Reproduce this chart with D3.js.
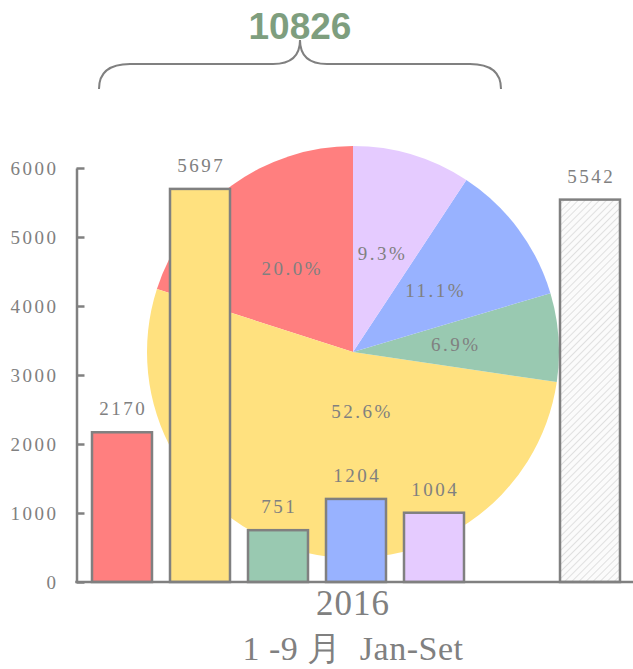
<!DOCTYPE html>
<html>
<head>
<meta charset="utf-8">
<script src="https://cdn.jsdelivr.net/npm/d3@7"></script>
<style>
  html, body { margin: 0; padding: 0; background: #fff; }
  svg { display: block; }
</style>
</head>
<body>
<svg id="chart" width="633" height="669"></svg>
<script>
// ---- data ----
const categories = ["c1", "c2", "c3", "c4", "c5"];
const values = [2170, 5697, 751, 1204, 1004];
const colors = ["#ff7f7f", "#ffe17f", "#99c9b1", "#98b2ff", "#e5cbff"];
const compareCategory = "prev";
const compareValue = 5542;
const yTicks = [0, 1000, 2000, 3000, 4000, 5000, 6000];
const yearLabel = "2016";
const periodLabel = "1 -9 月  Jan-Set";

// ---- layout ----
const W = 633, H = 669;
const axisX = 76.5, baseY = 582, topY = 168;
const pieCx = 353, pieCy = 352, pieR = 206;
const grey = "#808080";
const serif = "'Liberation Serif', 'Times New Roman', serif";
const smallFont = 19, smallSpacing = 2.5;

const svg = d3.select("#chart");

const defs = svg.append("defs");
const pat = defs.append("pattern")
  .attr("id", "hatch").attr("patternUnits", "userSpaceOnUse")
  .attr("width", 5).attr("height", 5)
  .attr("patternTransform", "rotate(45)");
pat.append("rect").attr("width", 5).attr("height", 5).attr("fill", "#fbfbfb");
pat.append("line").attr("x1", 0).attr("y1", 0).attr("x2", 0).attr("y2", 5)
  .attr("stroke", "#e0e0e0").attr("stroke-width", 2);

const total = d3.sum(values);

// scales
const xDomain = [...categories, "gap", compareCategory];
const x = d3.scaleBand().domain(xDomain).range([83, 629])
  .paddingInner(0.2308).paddingOuter(0.1154);
const y = d3.scaleLinear().domain([0, 6000]).range([baseY, topY]);

// ---- pie (behind bars) ----
const pie = d3.pie().sort(null).startAngle(0).endAngle(-2 * Math.PI);
const arcs = pie(values);
const arc = d3.arc().innerRadius(0).outerRadius(pieR);
const pg = svg.append("g").attr("transform", `translate(${pieCx},${pieCy})`);
pg.selectAll("path").data(arcs).join("path")
  .attr("d", arc).attr("fill", (d, i) => colors[i]);
// labels: centroid, except the dominant (>half) slice which is labelled near the centre, below it
function labelPos(d) {
  if (Math.abs(d.endAngle - d.startAngle) > Math.PI) {
    const a = Math.PI - 0.15, r = pieR * 0.29;
    return [Math.sin(a) * r, -Math.cos(a) * r];
  }
  return arc.centroid(d);
}
pg.selectAll("text").data(arcs).join("text")
  .attr("transform", d => `translate(${labelPos(d)})`)
  .attr("text-anchor", "middle").attr("dy", "0.35em")
  .attr("font-family", serif).attr("font-size", smallFont)
  .attr("letter-spacing", smallSpacing)
  .attr("fill", grey)
  .text(d => (d.value / total * 100).toFixed(1) + "%");

// ---- bars ----
const bars = svg.append("g");
bars.selectAll("rect.cat").data(values).join("rect")
  .attr("class", "cat")
  .attr("x", (d, i) => x(categories[i]))
  .attr("y", d => y(d))
  .attr("width", x.bandwidth())
  .attr("height", d => baseY - y(d))
  .attr("fill", (d, i) => colors[i])
  .attr("stroke", grey).attr("stroke-width", 2.5);
bars.append("rect")
  .attr("x", x(compareCategory)).attr("y", y(compareValue))
  .attr("width", x.bandwidth()).attr("height", baseY - y(compareValue))
  .attr("fill", "url(#hatch)")
  .attr("stroke", grey).attr("stroke-width", 2.5);

const labelData = [...values.map((v, i) => ({ k: categories[i], v })), { k: compareCategory, v: compareValue }];
bars.selectAll("text").data(labelData).join("text")
  .attr("x", d => x(d.k) + x.bandwidth() / 2 + smallSpacing / 2)
  .attr("y", d => y(d.v) - 17)
  .attr("text-anchor", "middle")
  .attr("font-family", serif).attr("font-size", smallFont)
  .attr("letter-spacing", smallSpacing)
  .attr("fill", grey)
  .text(d => d.v);

// ---- axes ----
const yAxis = d3.axisLeft(y).tickValues(yTicks).tickSizeInner(-8).tickSizeOuter(0)
  .tickPadding(18).tickFormat(d3.format("d"));
const ag = svg.append("g").attr("transform", `translate(${axisX},0)`).call(yAxis);
ag.select(".domain").attr("stroke", grey).attr("stroke-width", 2.5);
ag.selectAll(".tick line").attr("stroke", grey).attr("stroke-width", 2.5);
ag.selectAll(".tick text").attr("font-family", serif).attr("font-size", smallFont)
  .attr("letter-spacing", smallSpacing).attr("fill", grey);

svg.append("line").attr("x1", axisX - 1.25).attr("x2", W).attr("y1", baseY).attr("y2", baseY)
  .attr("stroke", grey).attr("stroke-width", 2.5);

// ---- bottom labels ----
svg.append("text").attr("x", pieCx).attr("y", 615).attr("text-anchor", "middle")
  .attr("font-family", serif).attr("font-size", 35).attr("letter-spacing", 1)
  .attr("fill", grey).text(yearLabel);
svg.append("text").attr("x", pieCx).attr("y", 660).attr("text-anchor", "middle")
  .attr("font-family", serif).attr("font-size", 34).attr("letter-spacing", 0.5)
  .attr("fill", grey)
  .style("white-space", "pre").text(periodLabel);

// ---- brace + total ----
const bx0 = 99, bx1 = 501, bMid = 300, bTop = 64, bBot = 89, bCusp = 40, rC = 31, rM = 27;
const p = d3.path();
p.moveTo(bx0, bBot);
p.quadraticCurveTo(bx0, bTop, bx0 + rC, bTop);
p.lineTo(bMid - rM, bTop);
p.quadraticCurveTo(bMid, bTop, bMid, bCusp);
p.quadraticCurveTo(bMid, bTop, bMid + rM, bTop);
p.lineTo(bx1 - rC, bTop);
p.quadraticCurveTo(bx1, bTop, bx1, bBot);
svg.append("path").attr("d", p.toString()).attr("fill", "none")
  .attr("stroke", grey).attr("stroke-width", 2);

svg.append("text").attr("x", bMid).attr("y", 39).attr("text-anchor", "middle")
  .attr("font-family", "'Liberation Sans', Arial, sans-serif").attr("font-weight", "bold")
  .attr("font-size", 37).attr("fill", "#7e9e7e").text(d3.format("d")(total));
</script>
</body>
</html>
